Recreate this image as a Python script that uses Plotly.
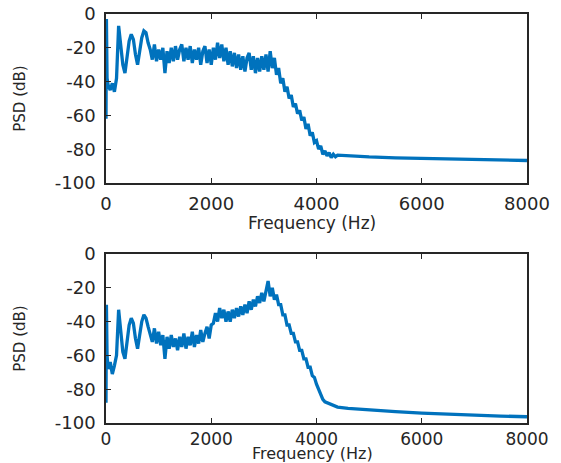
import numpy as np
import plotly.graph_objects as go

# ---- data ----
x_tick_vals = [0, 2000, 4000, 6000, 8000]
x_tick_text = ["0", "2000", "4000", "6000", "8000"]
y_tick_vals = [-100, -80, -60, -40, -20, 0]
y_tick_text = ["-100", "-80", "-60", "-40", "-20", "0"]
x_title = "Frequency (Hz)"
y_title = "PSD (dB)"

start_freq = [0, 8, 20]
grid_freq = list(range(40, 4401, 40))
tail_freq = [4600, 5000, 5500, 6000, 6500, 7000, 7500, 8000]

top_start = [-62, -3, -38]
top_grid = [
    -42, -45, -41, -46, -38, -7, -18, -30, -35, -26,
    -16, -12, -15, -24, -30, -22, -14, -10, -11, -17,
    -21, -27, -18, -28, -21, -27, -20, -35, -22, -29,
    -20, -28, -19, -27, -21, -18, -28, -20, -27, -19,
    -29, -21, -27, -20, -30, -22, -19, -29, -21, -30,
    -20, -27, -17, -26, -18, -28, -20, -30, -22, -31,
    -23, -32, -24, -33, -25, -34, -26, -23, -33, -25,
    -35, -26, -34, -25, -33, -24, -34, -22, -32, -26,
    -36, -32, -41, -38, -46, -43, -50, -48, -55, -53,
    -59, -57, -63, -61, -68, -65, -72, -70, -76, -75,
    -80, -78, -83, -81, -84, -82, -85, -83, -84.5, -83.5,
]
top_tail = [-84, -84.6, -85.1, -85.5, -85.9, -86.2, -86.5, -86.7]

bot_start = [-88, -30, -60]
bot_grid = [
    -68, -64, -71, -66, -60, -33, -45, -58, -62, -52,
    -42, -38, -41, -50, -56, -48, -40, -36, -38, -43,
    -47, -52, -44, -53, -46, -54, -48, -62, -49, -56,
    -48, -55, -50, -57, -49, -55, -47, -56, -49, -54,
    -46, -55, -48, -53, -45, -52, -47, -43, -50, -42,
    -41, -35, -40, -32, -38, -33, -40, -34, -40, -33,
    -38, -32, -37, -31, -36, -30, -35, -28, -33, -27,
    -31, -25, -29, -23, -28, -21, -16, -25, -20, -27,
    -24, -30, -30, -36, -36, -42, -42, -47, -47, -52,
    -52, -57, -57, -62, -62, -67, -67, -72, -73, -77,
    -80, -83, -86, -87.5, -88, -89, -89.5, -90, -90.3, -90.6,
]
bot_tail = [-91.3, -92.3, -93.3, -94.1, -94.8, -95.4, -95.9, -96.3]

freq = start_freq + grid_freq + tail_freq
top_psd = top_start + top_grid + top_tail
bot_psd = bot_start + bot_grid + bot_tail

# ---- figure ----
LINE = "#0072BD"
TXT = "#262626"
FONT = "DejaVu Sans"

fig = go.Figure()
fig.add_trace(go.Scatter(x=freq, y=top_psd, mode="lines",
                         line=dict(color=LINE, width=3.3),
                         xaxis="x", yaxis="y", showlegend=False))
fig.add_trace(go.Scatter(x=freq, y=bot_psd, mode="lines",
                         line=dict(color=LINE, width=3.3),
                         xaxis="x2", yaxis="y2", showlegend=False))

xax = dict(range=[0, 8000], tickvals=x_tick_vals, ticktext=x_tick_text,
           showgrid=False, zeroline=False, showline=True, linecolor=TXT,
           linewidth=1.5, mirror="ticks", ticks="inside", ticklen=5,
           tickcolor=TXT, tickfont=dict(family=FONT, size=18, color=TXT),
           ticklabeloverflow="allow", automargin=False)
yax = dict(range=[-100, 0], tickvals=y_tick_vals, ticktext=y_tick_text,
           showgrid=False, zeroline=False, showline=True, linecolor=TXT,
           linewidth=1.5, mirror=True, ticks="inside", ticklen=5,
           tickcolor=TXT, tickfont=dict(family=FONT, size=18, color=TXT),
           ticklabelstandoff=5, ticklabeloverflow="allow", automargin=False,
           title=dict(text=y_title,
                      font=dict(family=FONT, size=15, color=TXT), standoff=26))

fig.update_layout(
    width=561, height=463,
    margin=dict(l=106, r=34, t=14, b=40),
    paper_bgcolor="white", plot_bgcolor="white",
    xaxis=dict(xax, domain=[0, 1], anchor="y", ticklabelstandoff=4),
    yaxis=dict(yax, domain=[240 / 409, 1], anchor="x"),
    xaxis2=dict(xax, domain=[0, 1], anchor="y2", ticklabelstandoff=0,
                tickfont=dict(family=FONT, size=17, color=TXT)),
    yaxis2=dict(yax, domain=[0, 169 / 409], anchor="x2"),
    annotations=[
        dict(text=x_title, xref="x domain", yref="y domain", x=0.49, y=0,
             yshift=-40, yanchor="middle", showarrow=False,
             font=dict(family=FONT, size=17, color=TXT)),
        dict(text=x_title, xref="x2 domain", yref="y2 domain", x=0.49, y=0,
             yshift=-30, yanchor="middle", showarrow=False,
             font=dict(family=FONT, size=16, color=TXT)),
    ],
)

fig.write_html(
    "out.html",
    config={"displayModeBar": False},
    post_script="document.body.style.margin='0';document.body.style.overflow='hidden';",
)
